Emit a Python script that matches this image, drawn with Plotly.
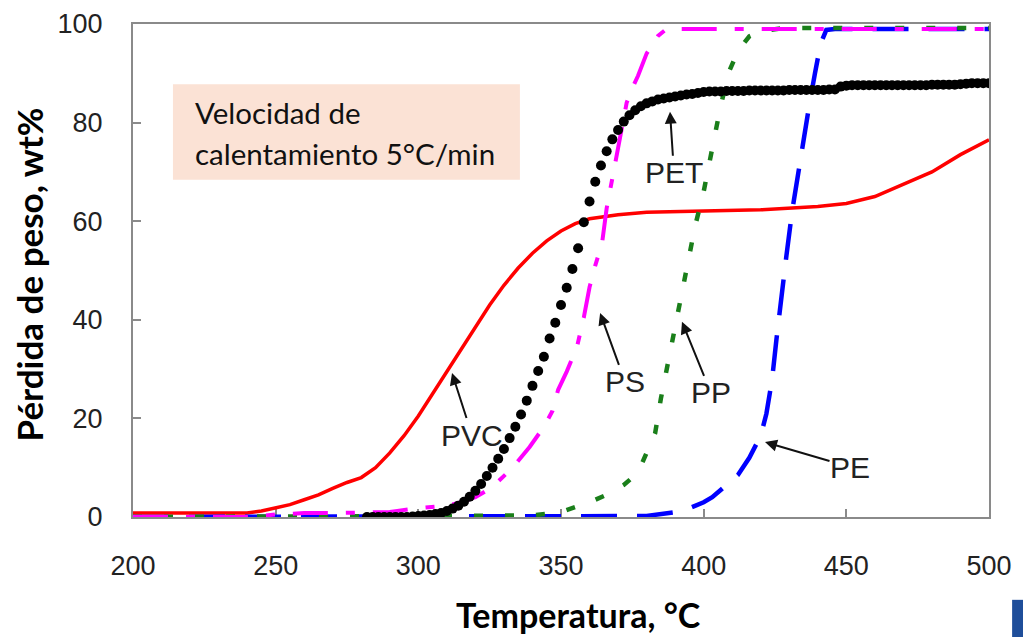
import plotly.graph_objects as go

# ---------------- data ----------------
pvc_t = [200, 240, 245, 250, 255, 260, 265, 270, 275, 280, 285, 290, 295, 300, 305, 310, 315, 320,
         325, 330, 335, 340, 345, 350, 355, 360, 370, 380, 400, 420, 440, 450, 460, 470, 480, 490, 500]
pvc_v = [0.8, 0.8, 1.2, 1.8, 2.5, 3.5, 4.5, 5.8, 7.0, 8.0, 10.0, 13.0, 16.5, 20.5, 25.0, 29.5, 34.0, 38.5,
         43.0, 47.0, 50.5, 53.5, 56.0, 58.0, 59.5, 60.5, 61.3, 61.8, 62.0, 62.3, 63.0, 63.6, 65.0, 67.5, 70.0, 73.5, 76.5]

pe_t = [200, 380, 390, 395, 400, 403, 407, 412, 416, 420, 422, 424, 425.5, 427, 429, 431, 433, 435,
        437, 439, 441, 443, 446, 500]
pe_v = [0.0, 0.2, 1.0, 1.8, 3.0, 4.0, 6.0, 8.5, 12.0, 16.5, 21.0, 28.0, 36.0, 44.0, 53.0, 62.0, 69.5, 76.5,
        83.5, 90.0, 96.0, 98.8, 99.0, 99.0]

pp_t = [200, 340, 350, 355, 360, 366, 372, 377, 381, 383, 385, 387, 390, 392, 394, 397, 400, 403, 406,
        409, 412, 416, 420, 428, 500]
pp_v = [0.0, 0.3, 1.0, 2.0, 3.0, 4.5, 6.5, 9.0, 14.0, 17.0, 24.0, 30.0, 39.0, 44.0, 51.0, 59.0, 66.0, 75.0, 83.5,
        90.5, 94.5, 97.5, 98.5, 99.2, 99.2]

ps_t = [200, 240, 250, 260, 270, 280, 290, 300, 310, 315, 320, 326, 333, 339, 344, 347, 349, 352, 355.6,
        358, 360, 362, 364.4, 366, 368, 370, 373, 375, 377, 380, 384, 387, 500]
ps_v = [0.0, 0.0, 0.5, 0.8, 0.8, 0.8, 1.0, 1.8, 2.3, 3.0, 4.0, 6.1, 10.0, 14.2, 18.3, 21.5, 25.8, 29.5, 34.5,
        40.5, 46.6, 51.0, 55.6, 62.6, 69.0, 75.0, 84.0, 87.0, 89.5, 94.0, 97.6, 99.0, 99.0]

pet_t = [282, 284, 286, 288, 290, 292, 294, 296, 298, 300, 302, 304, 306, 308, 310, 312, 314, 316, 318, 320,
         322, 324, 326, 328, 330, 332, 334, 336, 338, 340, 342, 344, 346, 348, 350, 352, 354, 356, 358, 360,
         362, 364, 366, 368, 370, 372, 374, 376, 378, 380, 382, 384, 386, 388, 390, 392, 394, 396, 398, 400,
         402, 404, 406, 408, 410, 412, 414, 416, 418, 420, 422, 424, 426, 428, 430, 432, 434, 436, 438, 440,
         442, 444, 446, 448, 450, 452, 454, 456, 458, 460, 462, 464, 466, 468, 470, 472, 474, 476, 478, 480,
         482, 484, 486, 488, 490, 492, 494, 496, 498, 500]
pet_v = [0.0, 0.0, 0.0, 0.0, 0.0, 0.0, 0.0, 0.0, 0.1, 0.2, 0.3, 0.4, 0.6, 0.8, 1.2, 1.7, 2.3, 3.1, 4.1, 5.3,
         6.7, 8.3, 10.0, 11.8, 13.8, 16.0, 18.3, 20.8, 23.6, 26.6, 29.6, 32.5, 36.2, 39.4, 43.0, 46.5, 50.3, 54.5, 59.8, 64.0,
         68.0, 71.3, 74.2, 76.6, 78.5, 80.2, 81.5, 82.5, 83.3, 83.9, 84.3, 84.7, 84.9, 85.1, 85.3, 85.5, 85.7, 85.8, 86.0, 86.2,
         86.3, 86.3, 86.3, 86.4, 86.4, 86.4, 86.4, 86.5, 86.5, 86.5, 86.5, 86.5, 86.5, 86.5, 86.6, 86.6, 86.6, 86.6, 86.6, 86.6,
         86.6, 86.7, 86.7, 87.3, 87.5, 87.6, 87.6, 87.6, 87.6, 87.6, 87.6, 87.6, 87.6, 87.6, 87.6, 87.6, 87.6, 87.6, 87.6, 87.7,
         87.7, 87.7, 87.7, 87.7, 87.8, 87.9, 88.0, 88.0, 88.0, 88.0]

x_ticks = [200, 250, 300, 350, 400, 450, 500]
y_ticks = [0, 20, 40, 60, 80, 100]

# ---------------- figure ----------------
fig = go.Figure()
fig.add_trace(go.Scatter(x=pvc_t, y=pvc_v, mode="lines", name="PVC",
                         line=dict(color="#ff0000", width=3.5)))
fig.add_trace(go.Scatter(x=pe_t, y=pe_v, mode="lines", name="PE",
                         line=dict(color="#0000ff", width=4.5, dash="36px,20px")))
fig.add_trace(go.Scatter(x=pp_t, y=pp_v, mode="lines", name="PP",
                         line=dict(color="#1a7f1a", width=4.5, dash="9px,22px")))
fig.add_trace(go.Scatter(x=ps_t, y=ps_v, mode="lines", name="PS",
                         line=dict(color="#ff00ff", width=4, dash="35px,18px,9px,18px")))
fig.add_trace(go.Scatter(x=pet_t, y=pet_v, mode="markers", name="PET",
                         marker=dict(color="#000000", size=10)))

tick_font = dict(family="Liberation Sans, Arial, sans-serif", size=27, color="#222222")
axis_common = dict(showline=True, linecolor="#8a8a8a", linewidth=2, mirror=True,
                   ticks="inside", ticklen=8, tickcolor="#8a8a8a", tickwidth=1.5,
                   showgrid=False, zeroline=False, tickfont=tick_font, layer="below traces",
                   automargin=False)

fig.update_xaxes(range=[200, 500], tickvals=x_ticks, ticktext=[str(v) for v in x_ticks],
                 ticklabelstandoff=24, **axis_common)
fig.update_yaxes(range=[0, 100], tickvals=y_ticks, ticktext=[str(v) for v in y_ticks],
                 ticklabelstandoff=23, **axis_common)

label_font = dict(family="Liberation Sans, Arial, sans-serif", size=30, color="#222222")
arrows = [
    ("PET", 388.2, 82.2, 4, 61),
    ("PS", 363.7, 41.4, 25, 69),
    ("PP", 392.4, 39.6, 29, 71),
    ("PE", 421.5, 15.2, 85, 25),
    ("PVC", 311.8, 29.2, 20, 62),
]
for txt, x, y, ax, ay in arrows:
    fig.add_annotation(x=x, y=y, xref="x", yref="y", text=txt, showarrow=True,
                       ax=ax, ay=ay, arrowhead=2, arrowsize=1.2, arrowwidth=2,
                       arrowcolor="#111111", font=label_font, borderpad=0)

# Info box
fig.add_shape(type="rect", xref="x", yref="y", x0=214.0, x1=335.6, y0=68.4, y1=87.8,
              fillcolor="#fbe2d5", line=dict(width=0), layer="below")
box_font = dict(family="Lato, sans-serif", size=29.5, color="#111111")
fig.add_annotation(x=221.0, y=82.0, xref="x", yref="y", text="Velocidad de",
                   showarrow=False, xanchor="left", yanchor="middle", font=box_font)
fig.add_annotation(x=221.0, y=73.8, xref="x", yref="y", text="calentamiento 5°C/min",
                   showarrow=False, xanchor="left", yanchor="middle", font=box_font)

# Axis titles
fig.add_annotation(x=-0.121, y=0.4929, xref="paper", yref="paper",
                   text="<b>Pérdida de peso, wt%</b>", textangle=-90, showarrow=False,
                   xanchor="center", yanchor="middle",
                   font=dict(family="Lato, sans-serif", size=35, color="#000000"))
fig.add_annotation(x=0.520, y=-0.198, xref="paper", yref="paper",
                   text="<b>Temperatura, °C</b>", showarrow=False,
                   xanchor="center", yanchor="middle",
                   font=dict(family="Lato, sans-serif", size=34, color="#000000"))

# corner fragment
fig.add_shape(type="rect", xref="paper", yref="paper", x0=1.027, x1=1.045, y0=-0.25, y1=-0.168,
              fillcolor="#1f4e9a", line=dict(width=0))

fig.update_layout(width=1023, height=637, showlegend=False,
                  paper_bgcolor="white", plot_bgcolor="white",
                  margin=dict(l=133, r=34, t=24, b=120, autoexpand=False))

fig.write_html("out.html", config={"displayModeBar": False},
               post_script="document.body.style.margin='0';document.body.style.overflow='hidden';")
